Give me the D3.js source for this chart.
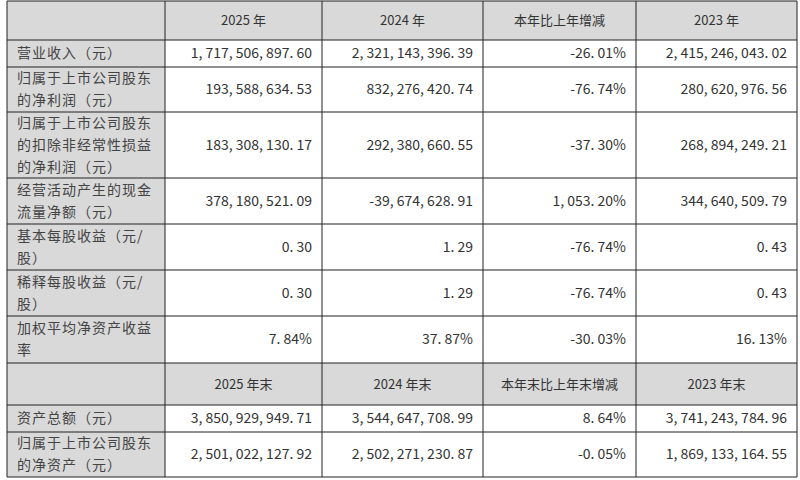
<!DOCTYPE html><html><head><meta charset="utf-8"><script src="https://cdn.jsdelivr.net/npm/d3@7"></script>
<style>body{margin:0;background:#fff}</style></head><body><svg id="c" width="800" height="480"></svg>
<script>
const header1=["","2025 年","2024 年","本年比上年增减","2023 年"];
const header2=["","2025 年末","2024 年末","本年末比上年末增减","2023 年末"];
const labels1=[["营业收入（元）"],["归属于上市公司股东","的净利润（元）"],["归属于上市公司股东","的扣除非经常性损益","的净利润（元）"],["经营活动产生的现金","流量净额（元）"],["基本每股收益（元/","股）"],["稀释每股收益（元/","股）"],["加权平均净资产收益","率"]];
const values1=[["1,717,506,897.60","2,321,143,396.39","-26.01%","2,415,246,043.02"],["193,588,634.53","832,276,420.74","-76.74%","280,620,976.56"],["183,308,130.17","292,380,660.55","-37.30%","268,894,249.21"],["378,180,521.09","-39,674,628.91","1,053.20%","344,640,509.79"],["0.30","1.29","-76.74%","0.43"],["0.30","1.29","-76.74%","0.43"],["7.84%","37.87%","-30.03%","16.13%"]];
const labels2=[["资产总额（元）"],["归属于上市公司股东","的净资产（元）"]];
const values2=[["3,850,929,949.71","3,544,647,708.99","8.64%","3,741,243,784.96"],["2,501,022,127.92","2,502,271,230.87","-0.05%","1,869,133,164.55"]];
const rowEdges=[1,40,67,112,178,224,270,316,363,405,432,477];
const colEdges=[7,165,322,483,636,797];

const svg=d3.select("#c");
const font="'Noto Sans CJK SC', sans-serif";
const rows=[{h:header1,type:"head"}].concat(labels1.map((l,i)=>({l,v:values1[i]})),[{h:header2,type:"head"}],labels2.map((l,i)=>({l,v:values2[i]})));
const y=d3.scaleOrdinal().domain(d3.range(rows.length)).range(rowEdges.slice(0,-1));
rows.forEach((r,i)=>{
  const y0=rowEdges[i],y1=rowEdges[i+1],cy=(y0+y1)/2;
  if(r.type==="head"){
    svg.append("rect").attr("x",colEdges[0]).attr("y",y0).attr("width",colEdges[5]-colEdges[0]).attr("height",y1-y0).attr("fill","#d9d9d9");
    r.h.forEach((t,j)=>{ if(!t)return;
      svg.append("text").attr("x",(colEdges[j]+colEdges[j+1])/2).attr("y",cy).attr("dy","0.35em").attr("text-anchor","middle")
        .attr("font-family",font).attr("font-size",13).attr("fill","#333").text(t);});
  } else {
    svg.append("rect").attr("x",colEdges[0]).attr("y",y0).attr("width",colEdges[1]-colEdges[0]).attr("height",y1-y0).attr("fill","#d9d9d9");
    const n=r.l.length;
    r.l.forEach((t,k)=>svg.append("text").attr("x",colEdges[0]+10).attr("y",cy+(k-(n-1)/2)*22).attr("dy","0.35em")
      .attr("font-family",font).attr("font-size",14).attr("fill","#444").attr("letter-spacing",1).text(t));
    r.v.forEach((t,j)=>svg.append("text").attr("x",colEdges[j+2]-10).attr("y",cy).attr("dy","0.35em").attr("text-anchor","end")
      .attr("font-family",font).attr("font-size",14).attr("fill","#333").text(t.replace(/,/g,", ").replace(/\./g,". ")));
  }
});
rowEdges.forEach(v=>svg.append("line").attr("x1",colEdges[0]).attr("x2",colEdges[5]).attr("y1",v).attr("y2",v).attr("stroke","#222").attr("stroke-width",1));
colEdges.forEach(v=>svg.append("line").attr("x1",v).attr("x2",v).attr("y1",rowEdges[0]).attr("y2",rowEdges[rowEdges.length-1]).attr("stroke","#222").attr("stroke-width",1));
</script></body></html>
